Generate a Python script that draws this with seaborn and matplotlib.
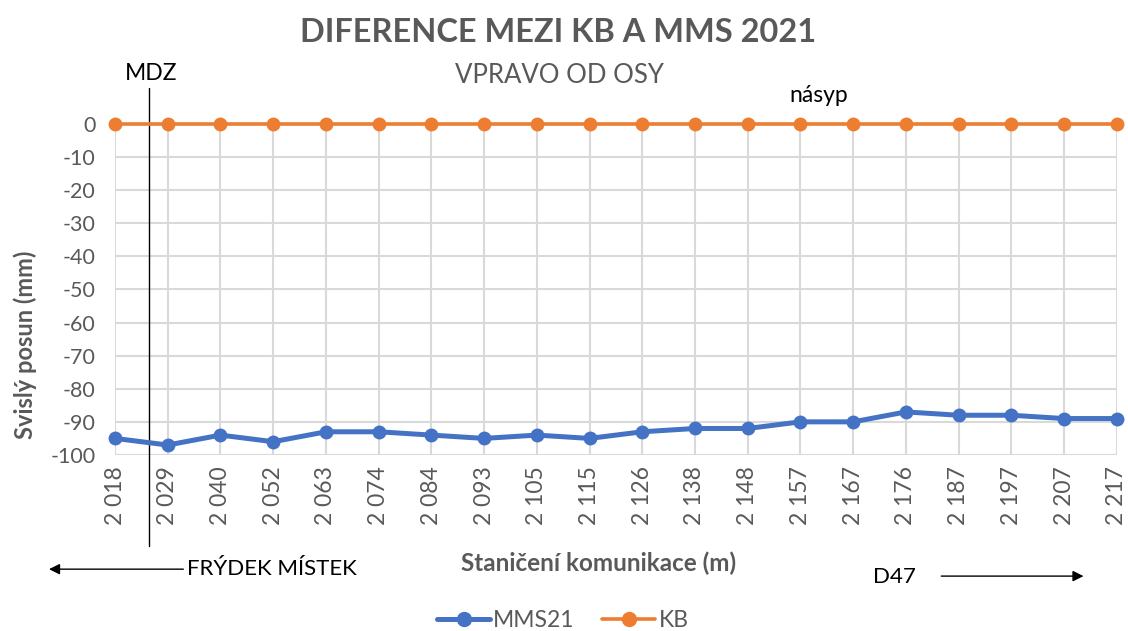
"""Diference mezi KB a MMS 2021 - vpravo od osy."""
import matplotlib.pyplot as plt
import pandas as pd
import seaborn as sns

staniceni = ["2 018", "2 029", "2 040", "2 052", "2 063", "2 074", "2 084", "2 093", "2 105", "2 115",
             "2 126", "2 138", "2 148", "2 157", "2 167", "2 176", "2 187", "2 197", "2 207", "2 217"]
mms21 = [-95, -97, -94, -96, -93, -93, -94, -95, -94, -95,
         -93, -92, -92, -90, -90, -87, -88, -88, -89, -89]
kb = [0] * len(staniceni)

sns.set_style("white")
plt.rcParams["font.family"] = ["Lato", "DejaVu Sans"]
plt.rcParams["axes.unicode_minus"] = False

GRAY = "#595959"
BLUE = "#4472C4"
ORANGE = "#ED7D31"

df = pd.DataFrame({
    "x": list(range(len(staniceni))) * 2,
    "posun": mms21 + kb,
    "serie": ["MMS21"] * len(staniceni) + ["KB"] * len(staniceni),
})

fig = plt.figure(figsize=(11.28, 6.31), dpi=100)
ax = fig.add_axes([0.102, 0.279, 0.888, 0.5245])

# mřížka
for v in range(-100, 0, 10):
    ax.axhline(v, color="#D9D9D9", lw=1.5, zorder=0)
for i in range(len(staniceni)):
    ax.plot([i, i], [-100, 0], color="#D9D9D9", lw=1.5, zorder=0)

sns.lineplot(data=df, x="x", y="posun", hue="serie", palette={"MMS21": BLUE, "KB": ORANGE},
             marker="o", markersize=10, markeredgewidth=0, ax=ax, legend=False)
ax.lines[-2].set_linewidth(3.6)
ax.lines[-1].set_linewidth(2.6)
for ln in ax.lines[-2:]:
    ln.set_clip_on(False)
    ln.set_zorder(3)

ax.set_xlim(0, len(staniceni) - 1)
ax.set_ylim(-100, 0)
ax.set_yticks(range(-100, 1, 10))
ax.set_xticks(range(len(staniceni)))
ax.set_xticklabels(staniceni, rotation=90)
ax.tick_params(axis="both", colors=GRAY, length=0)
ax.tick_params(axis="y", pad=14, labelsize=15.5)
ax.tick_params(axis="x", pad=8, labelsize=16.5)
for s in ax.spines.values():
    s.set_visible(False)
ax.set_xlabel("")
ax.set_ylabel("")

fig.text(0.531, 0.108, "Staničení komunikace (m)", ha="center", va="center",
         fontsize=17.5, fontweight="bold", color=GRAY)
fig.text(0.022, 0.453, "Svislý posun (mm)", ha="center", va="center", rotation=90,
         fontsize=17, fontweight="bold", color=GRAY)

fig.text(0.495, 0.948, "DIFERENCE MEZI KB A MMS 2021", ha="center", va="center",
         fontsize=23.4, fontweight="bold", color=GRAY)
fig.text(0.496, 0.881, "VPRAVO OD OSY", ha="center", va="center", fontsize=18.5, color=GRAY)

# MDZ
ax.plot([0.645, 0.645], [10.9, -127.5], color="black", lw=1, clip_on=False)
fig.text(0.134, 0.884, "MDZ", ha="center", va="center", fontsize=16.5, color="black")
fig.text(0.726, 0.848, "násyp", ha="center", va="center", fontsize=16.5, color="black")

# směry
fig.text(0.166, 0.099, "FRÝDEK MÍSTEK", ha="left", va="center", fontsize=16, color="black")
ax.annotate("", xy=(0.041, 0.098), xytext=(0.165, 0.098), xycoords="figure fraction",
            arrowprops=dict(arrowstyle="-|>", color="black", lw=1, mutation_scale=16))
fig.text(0.774, 0.086, "D47", ha="left", va="center", fontsize=16, color="black")
ax.annotate("", xy=(0.963, 0.087), xytext=(0.832, 0.087), xycoords="figure fraction",
            arrowprops=dict(arrowstyle="-|>", color="black", lw=1, mutation_scale=16))

handles = [plt.Line2D([], [], color=BLUE, lw=3.6, marker="o", markersize=10),
           plt.Line2D([], [], color=ORANGE, lw=2.6, marker="o", markersize=10)]
leg = fig.legend(handles, ["MMS21", "KB"], loc="center", bbox_to_anchor=(0.499, 0.017),
                 ncol=2, frameon=False, fontsize=16.5, handlelength=2.3, columnspacing=1.2,
                 handletextpad=0.15)
for t in leg.get_texts():
    t.set_color(GRAY)

fig.savefig("out.png", dpi=100)
